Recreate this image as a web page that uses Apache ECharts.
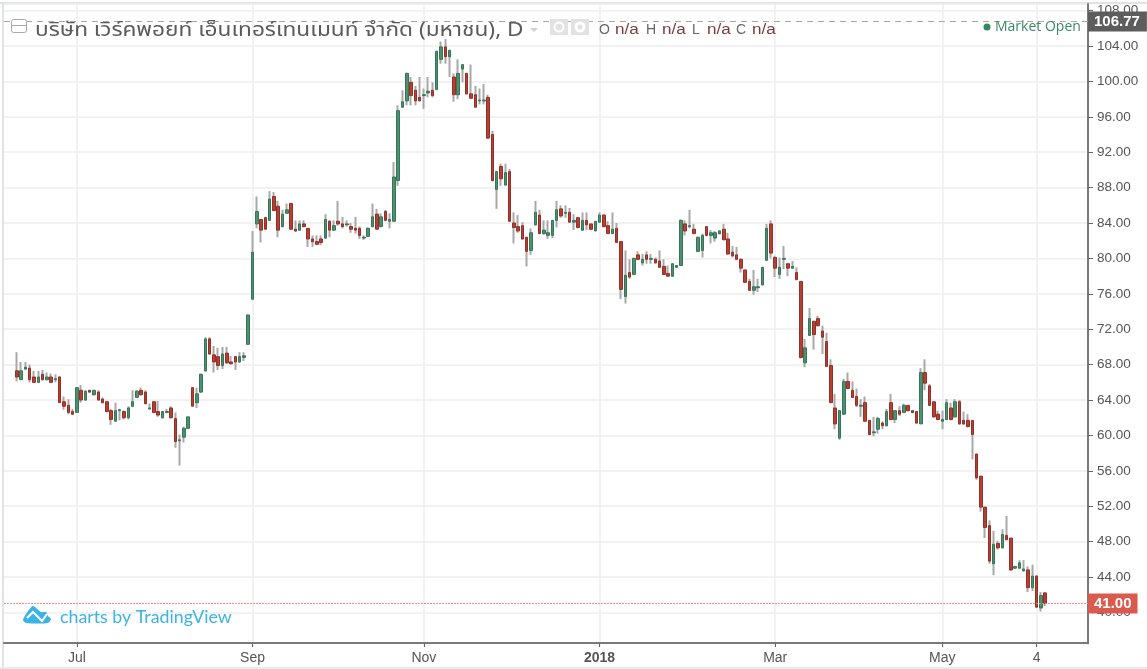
<!DOCTYPE html>
<html>
<head>
<meta charset="utf-8">
<style>html,body{margin:0;padding:0;background:#fff}#c{width:1147px;height:669px;filter:blur(0.4px)}</style>
<script src="https://cdn.jsdelivr.net/npm/echarts@6/dist/echarts.min.js"></script>
</head>
<body>
<div id="c"></div>
<script>
const opens = [
67.3,66.3,67.5,67.6,66.6,66.0,66.9,66.3,66.6,66.3,
66.6,63.8,63.4,62.7,62.6,65.1,64.0,65.1,64.6,64.9,
64.1,63.8,62.8,61.6,62.8,62.7,62.0,63.3,64.3,65.1,
64.9,63.0,63.8,62.7,62.0,62.6,63.1,61.9,59.4,59.8,
60.8,65.4,63.7,64.9,67.3,70.9,69.1,68.9,67.9,69.3,
68.3,68.9,68.3,68.8,70.3,75.4,83.9,84.4,84.6,84.3,
87.0,85.9,83.6,85.1,86.2,83.3,83.2,83.9,83.4,82.2,
81.9,82.2,82.3,84.2,83.2,84.2,83.9,83.8,83.6,83.4,
83.4,82.3,82.5,83.6,85.0,83.6,85.3,84.2,84.2,88.8,
97.1,97.8,99.9,99.0,98.2,98.4,98.7,99.0,99.1,102.5,
103.9,102.8,100.5,98.5,101.4,100.9,98.6,98.5,97.8,97.8,
98.2,94.0,87.8,90.4,88.3,89.8,84.0,83.6,83.7,82.4,
80.9,83.8,84.9,82.8,82.6,82.6,84.3,85.6,85.1,85.2,
84.1,84.6,83.2,84.3,83.9,83.1,84.1,84.9,83.7,82.8,
83.4,81.9,75.7,78.4,78.2,80.4,79.5,80.4,79.9,79.9,
79.7,79.1,78.3,78.0,79.0,79.2,83.9,83.6,83.3,80.8,
80.9,83.6,82.6,82.3,82.8,83.3,82.2,80.7,80.4,79.9,
78.7,77.4,76.4,76.7,77.0,79.8,83.9,80.1,78.2,79.9,
79.4,78.9,78.4,77.4,68.2,71.3,72.9,73.2,71.8,70.6,
67.9,63.1,59.7,62.4,66.1,65.1,64.4,63.3,63.7,61.7,
60.3,60.7,61.4,61.1,63.7,61.8,62.8,62.6,63.4,62.8,
62.7,61.3,67.1,65.6,63.8,62.4,61.6,61.8,63.1,62.1,
63.8,61.7,61.7,61.7,57.9,55.4,51.9,49.8,45.5,47.8,
47.3,48.7,48.4,45.0,45.0,44.7,44.8,42.8,44.1,40.5,
42.2];
const highs = [
69.4,68.3,68.3,68.0,67.3,67.3,67.4,67.1,67.0,66.9,
66.7,64.4,64.1,63.0,65.4,65.7,65.1,65.1,65.1,65.1,
64.3,63.9,63.0,63.7,63.0,62.8,63.3,65.1,65.1,65.4,
65.1,63.6,63.9,63.9,62.7,63.0,63.3,62.6,60.1,61.0,
62.1,65.4,65.4,67.0,71.1,71.1,70.1,69.9,70.0,70.0,
69.0,69.0,69.4,69.4,73.7,83.1,87.0,84.4,84.7,87.6,
87.5,86.5,85.5,86.2,86.3,84.3,84.3,84.3,83.4,82.6,
82.6,82.6,85.0,84.3,84.3,86.5,84.7,84.3,84.0,84.7,
83.6,82.6,83.5,86.2,85.6,85.1,85.5,85.1,90.9,97.3,
99.0,101.0,100.5,99.5,100.5,99.2,100.5,99.9,103.5,104.5,
104.8,103.6,100.9,102.5,101.9,101.0,101.9,99.5,99.2,99.7,
98.5,94.4,89.9,90.7,90.7,90.1,85.2,84.9,84.1,82.4,
83.4,86.5,85.5,84.3,84.3,84.3,86.5,86.0,86.0,85.7,
85.0,84.7,85.2,85.2,83.9,84.2,85.2,85.0,84.2,85.2,
84.0,81.9,80.9,79.9,80.1,80.8,80.5,80.8,80.5,80.1,
80.9,79.9,79.2,79.4,79.2,84.4,84.3,85.5,83.9,82.4,
82.8,83.6,83.2,83.1,83.2,83.9,82.9,81.4,81.3,80.0,
78.7,77.7,78.7,77.7,79.0,83.9,84.3,80.3,80.1,81.4,
79.4,79.7,79.0,77.4,70.9,74.4,72.9,73.5,72.4,71.6,
68.6,64.7,62.8,66.4,67.1,66.1,65.3,64.1,64.4,61.7,
62.1,62.1,61.6,63.0,64.7,62.8,63.3,63.6,63.4,62.8,
62.7,67.6,68.6,65.8,63.8,62.8,62.8,64.1,63.7,64.1,
64.0,62.7,62.4,61.7,57.9,55.4,51.9,50.4,49.2,48.1,
49.4,50.9,48.4,45.2,45.9,45.9,45.2,45.4,44.2,42.3,
42.3];
const lows = [
66.1,66.3,67.4,66.0,65.9,65.9,66.2,66.2,65.9,66.0,
63.7,62.9,62.4,62.3,62.6,63.7,63.9,64.8,64.5,63.9,
63.6,62.6,61.2,61.6,61.7,61.8,61.8,63.2,64.2,64.5,
63.5,62.9,62.5,62.1,61.9,62.5,61.9,58.6,56.6,59.2,
60.7,63.3,63.1,64.8,67.2,69.1,67.1,67.4,67.5,68.1,
68.0,67.4,68.2,68.4,70.2,75.3,83.4,81.8,83.3,84.3,
85.4,82.4,83.5,85.1,83.3,83.0,83.1,83.5,81.3,81.3,
81.5,81.5,82.2,82.4,83.1,83.7,83.4,83.6,82.9,82.8,
82.2,82.1,82.4,83.5,83.3,83.5,84.2,83.4,84.2,88.2,
97.0,97.3,97.3,97.3,97.8,96.9,98.2,98.2,99.0,102.0,
102.0,100.5,97.7,98.0,99.9,98.5,98.1,97.0,97.4,97.4,
93.5,88.7,85.6,88.2,88.2,84.2,81.7,82.9,82.1,79.1,
80.4,83.7,82.8,82.7,82.2,82.3,83.5,84.6,84.6,84.0,
83.2,83.4,83.1,83.2,83.2,83.1,84.0,83.5,82.8,82.8,
81.8,75.4,74.9,77.7,78.1,79.8,79.2,79.4,79.4,79.4,
78.9,78.1,77.9,77.9,78.9,79.2,82.6,83.4,82.8,80.7,
80.1,82.5,81.7,81.9,82.7,82.1,80.4,80.1,79.8,78.4,
77.2,76.3,75.9,76.2,77.0,79.7,80.0,77.9,77.7,78.8,
78.0,78.8,77.6,68.7,67.7,71.3,69.7,72.3,69.2,67.8,
63.7,60.7,59.5,62.3,65.2,64.2,63.2,62.1,61.6,60.0,
59.9,60.2,60.7,61.0,61.7,61.4,62.2,62.5,62.7,62.5,
61.3,61.3,65.1,63.3,62.0,61.7,60.7,61.7,61.7,62.0,
61.2,61.2,60.9,57.3,55.0,51.4,48.4,45.5,44.2,47.1,
47.2,48.2,44.7,44.9,44.9,44.6,42.3,42.4,40.5,40.1,
40.7];
const closes = [
66.6,67.3,67.7,66.3,66.0,66.6,66.3,66.6,66.0,66.4,
63.7,63.3,62.6,62.4,65.4,64.0,65.0,64.9,65.1,64.0,
63.7,62.7,61.8,62.8,62.9,62.0,63.1,63.8,65.0,64.6,
63.6,63.1,62.6,62.3,62.7,62.7,62.0,59.3,59.5,60.8,
62.1,63.3,64.7,66.9,70.9,69.2,68.3,67.9,69.2,68.2,
68.1,68.3,68.9,69.0,73.6,80.7,85.3,83.2,83.3,86.7,
85.4,83.2,85.0,85.5,83.3,83.1,83.9,83.6,82.2,81.9,
81.6,81.8,84.4,83.2,83.7,83.9,83.6,83.9,83.3,83.2,
82.6,82.4,83.4,84.7,83.3,84.7,84.3,84.4,89.2,96.7,
97.7,100.9,98.4,97.8,97.8,98.5,98.9,98.4,103.4,103.9,
102.8,103.5,98.5,100.9,101.9,98.6,98.1,97.1,97.9,97.9,
93.6,88.8,89.8,89.0,89.7,84.2,83.5,83.1,82.2,80.8,
82.9,85.2,82.8,83.2,82.9,84.3,85.5,84.8,85.2,84.1,
84.3,83.5,84.3,83.8,83.3,84.2,84.9,83.6,82.8,83.3,
81.8,76.5,78.1,77.9,80.0,79.9,79.9,79.9,80.0,79.5,
79.0,78.2,78.0,79.4,79.2,84.3,83.1,83.7,82.8,82.4,
82.6,82.6,82.9,82.9,83.1,82.1,80.5,80.3,79.9,78.9,
77.3,76.4,76.8,76.8,79.0,83.4,80.6,78.9,79.0,80.0,
78.9,79.1,77.6,68.8,69.9,73.2,71.4,72.4,71.1,67.8,
63.7,61.3,62.8,66.1,65.3,64.3,63.4,63.4,61.6,60.1,
60.4,61.9,61.1,62.7,61.8,62.8,62.4,63.4,62.8,62.6,
61.4,67.1,65.9,63.4,62.1,61.8,61.8,63.7,61.8,63.8,
61.3,61.3,61.0,60.1,55.2,51.9,49.6,45.8,47.7,47.3,
48.8,48.2,44.8,45.2,45.6,44.9,42.8,44.1,40.6,41.9,
41.0];

const tickLabels = ['Jul', 'Sep', 'Nov', '2018', 'Mar', 'May', '4'];
const tickCandles = [14, 55, 95, 136, 177, 216, 238];
const leadBlanks = 3;
const trailBlanks = 10;
const lastPrice = 41.00;
const openPrice = 106.77;
const priceMin = 36, priceMax = 108.75, priceStep = 4;
const titleText = 'บริษัท เวิร์คพอยท์ เอ็นเทอร์เทนเมนท์ จำกัด (มหาชน), D';

const tickIdx = tickCandles.map(i => i + leadBlanks);
const n = opens.length;
const cats = [];
for (let i = 0; i < leadBlanks + n + trailBlanks; i++) {
  const p = tickIdx.indexOf(i);
  cats.push(p >= 0 ? tickLabels[p] : 'c' + i);
}
const blank = ['-', '-', '-', '-'];
const pad = (arr) => Array(leadBlanks).fill(blank).concat(arr, Array(trailBlanks).fill(blank));
const wickData = pad(opens.map((o, i) => [o, closes[i], lows[i], highs[i]]));
const bodyData = pad(opens.map((o, i) => [o, closes[i], Math.min(o, closes[i]), Math.max(o, closes[i])]));
const isTick = (i) => tickIdx.includes(i);

const LS = '"Liberation Sans", Arial, sans-serif';
const THAI = '"Noto Sans", "Noto Sans Thai", "Open Sans", sans-serif';
const txt = (x, y, text, fill, size, extra, sx) => ({
  type: 'text', x, y, silent: true, z: 50, scaleX: sx || 1,
  style: Object.assign({ text, fill, font: size + 'px ' + LS, textVerticalAlign: 'middle' }, extra || {})
});
const gfx = [
  { type: 'rect', shape: { x: 0, y: 2, width: 1147, height: 2 }, style: { fill: '#dfe2e7' }, silent: true },
  { type: 'rect', shape: { x: 2, y: 2, width: 2, height: 665 }, style: { fill: '#dfe2e7' }, silent: true },
  { type: 'rect', shape: { x: 0, y: 667, width: 1147, height: 2 }, style: { fill: '#e8eaee' }, silent: true },
  { type: 'rect', z: 40, silent: true, shape: { x: 1087, y: 644.2, width: 60, height: 6 }, style: { fill: '#fff' } },
  { type: 'rect', z: 50, silent: true, shape: { x: 11.5, y: 19.5, width: 15, height: 13, r: 2 }, style: { fill: '#fff', stroke: '#a8a8a8', lineWidth: 1 } },
  { type: 'line', z: 50, silent: true, shape: { x1: 12, y1: 25.5, x2: 26, y2: 25.5 }, style: { stroke: '#a8a8a8', lineWidth: 1 } },
  txt(35, 30, titleText, '#5a5a5a', 19.5, { font: '19.5px ' + THAI }, 1.16),
  { type: 'polygon', z: 50, silent: true, shape: { points: [[530, 28], [538, 28], [534, 32]] }, style: { fill: '#d0d0d0' } },
  { type: 'rect', z: 50, silent: true, shape: { x: 550, y: 19, width: 18, height: 16 }, style: { fill: '#e2e2e2' } },
  { type: 'circle', z: 51, silent: true, shape: { cx: 559, cy: 27, r: 4.5 }, style: { fill: 'none', stroke: '#fff', lineWidth: 2 } },
  { type: 'rect', z: 50, silent: true, shape: { x: 571, y: 19, width: 18, height: 16 }, style: { fill: '#e2e2e2' } },
  { type: 'circle', z: 51, silent: true, shape: { cx: 580, cy: 27, r: 4 }, style: { fill: 'none', stroke: '#fff', lineWidth: 3 } },
  txt(599, 30, 'O', '#666', 14), txt(615, 30, 'n/a', '#7a3b3b', 14, null, 1.22),
  txt(646, 30, 'H', '#666', 14), txt(662, 30, 'n/a', '#7a3b3b', 14, null, 1.22),
  txt(692, 30, 'L', '#666', 14), txt(707, 30, 'n/a', '#7a3b3b', 14, null, 1.22),
  txt(736, 30, 'C', '#666', 14), txt(752, 30, 'n/a', '#7a3b3b', 14, null, 1.22),
  { type: 'circle', z: 50, silent: true, shape: { cx: 987, cy: 27, r: 3.5 }, style: { fill: '#2f8a5b' } },
  txt(995, 27, 'Market Open', '#3b8a63', 14, { font: '14px "Open Sans", sans-serif' }),
  { type: 'polygon', z: 50, silent: true, shape: { smooth: 0.25, points: [[23, 620], [26, 614], [33, 606], [41, 612], [46, 612], [48, 616], [51, 619], [48, 623], [26, 623]] }, style: { fill: '#3bb3e4' } },
  { type: 'polyline', z: 51, silent: true, shape: { points: [[27, 618], [33, 612], [42, 621], [47, 614]] }, style: { fill: 'none', stroke: '#fff', lineWidth: 2 } },
  txt(60, 617, 'charts by TradingView', '#3bb3e4', 17.8, { font: '17.8px "Lato", sans-serif' })
];

const chart = echarts.init(document.getElementById('c'), null, { renderer: 'canvas' });
chart.setOption({
  animation: false,
  backgroundColor: '#fff',
  grid: { left: 4, right: 59, top: 4, bottom: 21.2, containLabel: false },
  xAxis: {
    type: 'category', data: cats, boundaryGap: false, offset: -4.8,
    axisLine: { lineStyle: { color: '#7a7a7a', width: 2 } },
    axisTick: { show: true, length: 4, interval: isTick, lineStyle: { color: '#666' } },
    splitLine: { show: true, interval: isTick, lineStyle: { color: '#eeeeee', width: 1.5 } },
    axisLabel: {
      show: true, interval: isTick, color: '#555', fontSize: 14, fontFamily: LS, margin: 8,
      formatter: (v) => v === '2018' ? '{b|2018}' : v,
      rich: { b: { fontWeight: 'bold', color: '#555', fontSize: 14, fontFamily: LS } }
    }
  },
  yAxis: {
    type: 'value', position: 'right', scale: true, min: priceMin, max: priceMax, interval: priceStep,
    axisLine: { show: true, lineStyle: { color: '#7a7a7a', width: 2 } },
    axisTick: { show: true, length: 5, lineStyle: { color: '#666' } },
    splitLine: { show: true, showMinLine: false, lineStyle: { color: '#eeeeee', width: 1.5 } },
    axisLabel: { show: true, color: '#555', fontSize: 13.5, fontFamily: LS, margin: 9, showMinLabel: false, showMaxLabel: false, formatter: (v) => v.toFixed(2) }
  },
  graphic: gfx,
  series: [
    {
      name: 'last', type: 'line', data: cats.map(() => lastPrice), showSymbol: false, silent: true, z: 6,
      lineStyle: { color: '#f2897f', type: [2, 1], width: 1 }
    },
    {
      name: 'wick', type: 'candlestick', data: wickData, barWidth: 1, silent: true, z: 2,
      itemStyle: { color: '#a8a8a8', color0: '#a8a8a8', borderColor: '#a8a8a8', borderColor0: '#a8a8a8', borderWidth: 2 },
      markLine: {
        silent: true, symbol: 'none', animation: false, z: 20,
        lineStyle: { color: '#a8a8a8', type: [6, 5], width: 1 },
        data: [
          { yAxis: openPrice,
            label: { show: true, position: 'end', formatter: openPrice.toFixed(2), distance: 0, color: '#fff', fontFamily: LS, fontSize: 15, fontWeight: 'bold', backgroundColor: '#5d5d5d', padding: [3, 7, 2, 6] } }
        ]
      }
    },
    {
      name: 'body', type: 'candlestick', data: bodyData, barWidth: 3, silent: true, z: 3,
      itemStyle: { color: '#4f8f6d', color0: '#b5402f', borderColor: '#35765a', borderColor0: '#93302a', borderWidth: 1 },
      markLine: {
        silent: true, symbol: 'none', animation: false, z: 20,
        lineStyle: { color: 'rgba(0,0,0,0)', width: 0 },
        data: [
          { yAxis: lastPrice,
            label: { show: true, position: 'end', formatter: lastPrice.toFixed(2), distance: 0, color: '#fff', fontFamily: LS, fontSize: 15, fontWeight: 'bold', backgroundColor: '#db5a4e', padding: [3, 6, 2, 6] } }
        ]
      }
    }
  ]
});
</script>
</body>
</html>
